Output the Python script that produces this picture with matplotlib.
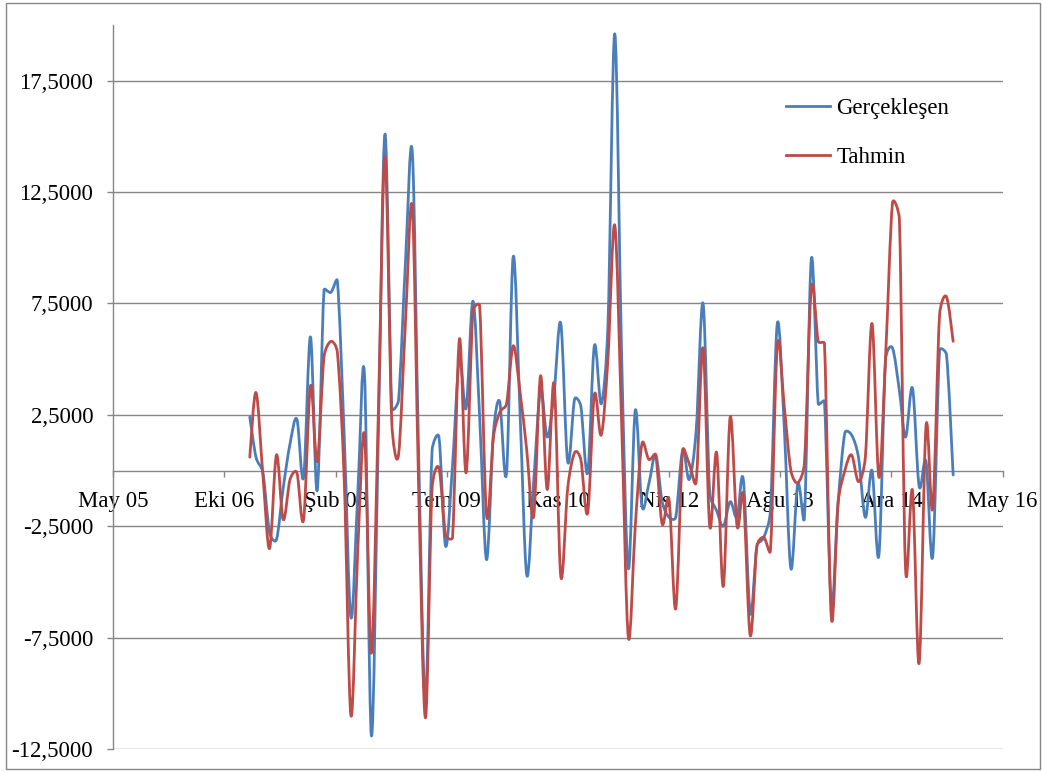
import numpy as np
import pandas as pd
import matplotlib
matplotlib.use('Agg')
import matplotlib.pyplot as plt
from matplotlib.path import Path
from matplotlib.patches import PathPatch, Rectangle
from matplotlib.lines import Line2D
import matplotlib.dates as mdates

plt.rcParams['font.family'] = ['Liberation Serif', 'DejaVu Serif']
plt.rcParams['font.size'] = 16.5

# monthly series, Feb 2007 - Oct 2015
dates = pd.date_range('2007-02-01', periods=105, freq='MS')

gerceklesen = [
    2.4, 0.6, -0.1, -2.8, -3.1, -0.8, 1.2, 2.3, -0.3, 6.0,
    -0.9, 8.1, 8.0, 8.5, 1.5, -6.6, -1.0, 4.3, -11.9, 1.5,
    15.1, 2.8, 3.15, 9.3, 14.3, 1.0, -10.3, 0.9, 1.5, -3.4,
    0.25, 5.0, 2.8, 7.6, 2.4, -4.0, 1.7, 3.1, -0.1, 9.6,
    2.5, -4.7, -0.5, 3.6, 1.5, 3.5, 6.6, 0.4, 3.2, 2.9,
    -0.1, 5.6, 3.0, 6.5, 19.6, 5.0, -4.4, 2.7, -1.6, -0.6,
    0.7, -1.4, -2.1, -2.1, 0.9, -0.4, 1.8, 7.5, -1.0, -1.8,
    -2.5, -1.4, -2.1, -0.4, -6.4, -3.4, -3.0, -1.8, 6.6, 2.0,
    -4.4, -0.6, -2.1, 9.5, 3.0, 3.1, -6.0, -1.5, 1.7, 1.6,
    0.6, -2.1, 0.0, -3.8, 5.0, 5.5, 3.6, 1.5, 3.7, -0.7,
    0.4, -3.85, 5.4, 5.2, -0.2,
]

tahmin = [
    0.6, 3.5, -0.2, -3.5, 0.7, -2.2, -0.4, -0.1, -2.2, 3.8,
    0.4, 5.1, 5.8, 5.3, -0.5, -11.0, -3.5, 1.6, -8.2, 2.5,
    14.1, 2.1, 0.7, 6.6, 11.8, -0.5, -11.1, -0.8, 0.1, -2.9,
    -3.0, 5.9, -0.1, 7.2, 7.4, -2.0, 1.5, 2.6, 3.0, 5.6,
    3.5, 0.9, -2.05, 4.25, -0.85, 3.9, -4.75, -0.8, 0.8, 0.5,
    -1.9, 3.4, 1.6, 5.0, 11.0, 2.0, -7.5, -2.5, 1.2, 0.5,
    0.7, -2.4, -1.3, -6.2, 0.9, 0.3, -0.5, 5.5, -2.5, 0.8,
    -5.2, 2.4, -2.5, -1.1, -7.4, -3.4, -3.0, -3.6, 5.6, 2.9,
    0.0, -0.55, 0.35, 8.2, 5.8, 5.7, -6.6, -1.5, 0.0, 0.7,
    -0.5, 0.6, 6.6, -0.3, 5.1, 12.0, 11.3, -4.45, -0.9, -8.65,
    2.0, -1.7, 7.0, 7.8, 5.8,
]

# date axis: major unit of 500 days
tick_dates = pd.to_datetime(['2005-05-28', '2006-10-10', '2008-02-22', '2009-07-06',
                             '2010-11-18', '2012-04-01', '2013-08-14', '2014-12-27',
                             '2016-05-10'])
tick_labels = ['May 05', 'Eki 06', 'Şub 08', 'Tem 09', 'Kas 10',
               'Nis 12', 'Ağu 13', 'Ara 14', 'May 16']
y_ticks = [-12.5, -7.5, -2.5, 2.5, 7.5, 12.5, 17.5]

blue = '#4A7EBB'
red = '#BE4B48'
grey = '#868686'


def smooth_path(ax, x, y):
    # Excel-like smoothed line: bezier segments, catmull-rom control points
    # capped at half the segment length (measured on screen)
    pts = np.column_stack([x, y])
    pix = ax.transData.transform(pts)
    n = len(pts)
    verts = [pts[0]]
    codes = [Path.MOVETO]
    for i in range(n - 1):
        j0 = max(i - 1, 0)
        j3 = min(i + 2, n - 1)
        seg = np.hypot(*(pix[i + 1] - pix[i]))
        t1 = (pts[i + 1] - pts[j0]) / 6
        t2 = (pts[j3] - pts[i]) / 6
        l1 = np.hypot(*((pix[i + 1] - pix[j0]) / 6))
        l2 = np.hypot(*((pix[j3] - pix[i]) / 6))
        if l1 > seg / 2:
            t1 = t1 * (seg / 2) / l1
        if l2 > seg / 2:
            t2 = t2 * (seg / 2) / l2
        verts += [pts[i] + t1, pts[i + 1] - t2, pts[i + 1]]
        codes += [Path.CURVE4] * 3
    return Path(verts, codes)


fig = plt.figure(figsize=(10.43, 7.71), dpi=100)
ax = fig.add_axes([113.3 / 1043, 1 - 749 / 771, (1002.5 - 113.3) / 1043, (749 - 25) / 771])

ax.set_xlim(tick_dates[0], tick_dates[-1])
ax.set_ylim(-12.5, 20)

xnum = mdates.date2num(dates)
for series, col in [(gerceklesen, blue), (tahmin, red)]:
    patch = PathPatch(smooth_path(ax, xnum, np.array(series, dtype=float)),
                      facecolor='none', edgecolor=col, linewidth=2.0,
                      capstyle='round', joinstyle='round', zorder=3)
    ax.add_patch(patch)

ax.set_xticks(tick_dates)
ax.set_xticklabels(tick_labels)
ax.set_yticks(y_ticks)
ax.set_yticklabels([f'{v:.4f}'.replace('.', ',') for v in y_ticks])

ax.set_axisbelow(True)
ax.yaxis.grid(True, color=grey, linewidth=1.0)
for s in ['top', 'right']:
    ax.spines[s].set_visible(False)
ax.spines['bottom'].set_position(('data', 0))
for s in ['left', 'bottom']:
    ax.spines[s].set_color(grey)
    ax.spines[s].set_linewidth(1.0)
    ax.spines[s].set_zorder(1)

ax.tick_params(axis='y', direction='out', length=4.5, width=1, color=grey, pad=10)
ax.tick_params(axis='x', direction='out', length=4, width=1, color=grey, pad=11)

handles = [Line2D([], [], color=blue, linewidth=2.0),
           Line2D([], [], color=red, linewidth=2.0)]
ax.legend(handles, ['Gerçekleşen', 'Tahmin'], loc='upper left',
          bbox_to_anchor=(786 / 1043, 1 - 98 / 771), bbox_transform=fig.transFigure,
          frameon=False, borderpad=0, borderaxespad=0, handlelength=1.9,
          handletextpad=0.3, labelspacing=1.2)

# chart area border
fig.patches.append(Rectangle((6 / 1043, 2 / 771), 1034 / 1043, 766 / 771,
                             transform=fig.transFigure, fill=False,
                             edgecolor=grey, linewidth=1.0))

fig.savefig('out.png', dpi=100)
